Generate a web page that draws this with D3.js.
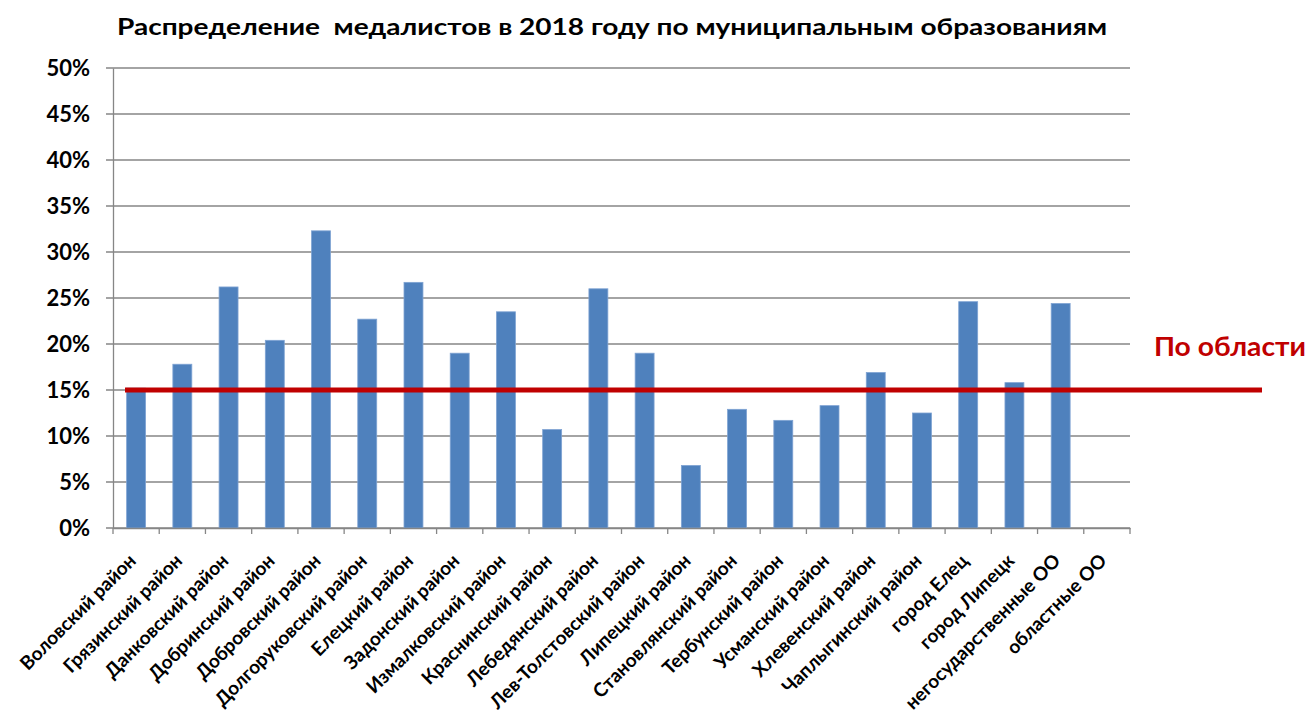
<!DOCTYPE html>
<html><head><meta charset="utf-8">
<script src="https://cdn.jsdelivr.net/npm/d3@7"></script>
<style>body{margin:0;background:#fff;} svg{display:block;} text{font-family:Lato,"Open Sans",sans-serif;font-weight:bold;}</style>
</head><body>
<svg id="c" width="1311" height="724"></svg>
<script>
const title = "Распределение  медалистов в 2018 году по муниципальным образованиям";
const categories = ["Воловский район","Грязинский район","Данковский район","Добринский район","Добровский район","Долгоруковский район","Елецкий район","Задонский район","Измалковский район","Краснинский район","Лебедянский район","Лев-Толстовский район","Липецкий район","Становлянский район","Тербунский район","Усманский район","Хлевенский район","Чаплыгинский район","город Елец","город Липецк","негосударственные ОО","областные ОО"];
const values = [15.2,17.8,26.2,20.4,32.3,22.7,26.7,19.0,23.5,10.7,26.0,19.0,6.8,12.9,11.7,13.3,16.9,12.5,24.6,15.8,24.4,0];
const yTicks = [0,5,10,15,20,25,30,35,40,45,50];
const regionValue = 15;
const regionLabel = "По области";

const svg = d3.select("#c");
const L = 113, R = 1130, T = 68, B = 528;
const x = d3.scaleBand().domain(categories).range([L, R]).paddingInner(0.59).paddingOuter(0.295);
const xs = d3.scaleBand().domain(categories).range([L, R]);
const y = d3.scaleLinear().domain([0, 50]).range([B, T]);

// title
svg.append("text").attr("x", 612).attr("y", 35).attr("text-anchor","middle")
  .style("white-space", "pre")
  .attr("font-size", 22).attr("textLength", 990).attr("lengthAdjust","spacingAndGlyphs")
  .text(title);

// gridlines
svg.append("g").selectAll("line").data(yTicks).join("line")
  .attr("x1", L - 7).attr("x2", R).attr("y1", d => y(d)).attr("y2", d => y(d))
  .attr("stroke", "#868686").attr("stroke-width", 1.3);

// y axis
const ya = svg.append("g").attr("transform", `translate(${L},0)`)
  .call(d3.axisLeft(y).tickValues(yTicks).tickFormat(d => d + "%").tickSize(0).tickPadding(23));
ya.select(".domain").attr("stroke", "#868686").attr("stroke-width", 1.3);
ya.selectAll("text").attr("font-size", 22).attr("fill", "#000").attr("font-family", "Lato,sans-serif").attr("font-weight","bold");

// bars
svg.append("g").selectAll("rect").data(values).join("rect")
  .attr("x", (d, i) => x(categories[i])).attr("width", x.bandwidth())
  .attr("y", d => y(d)).attr("height", d => B - y(d))
  .attr("fill", "#4f81bd").attr("stroke", "#7fa3d3").attr("stroke-width", 0.8);

// x axis
const xa = svg.append("g").attr("transform", `translate(0,${B})`)
  .call(d3.axisBottom(xs).tickSize(0).tickFormat(""));
xa.select(".domain").attr("stroke", "#868686").attr("stroke-width", 1.3);
const edges = d3.range(categories.length + 1).map(i => L + i * xs.step());
svg.append("g").selectAll("line").data(edges).join("line")
  .attr("x1", d => d).attr("x2", d => d).attr("y1", B).attr("y2", B + 6)
  .attr("stroke", "#868686").attr("stroke-width", 1.3);

svg.append("g").selectAll("text").data(categories).join("text")
  .attr("transform", d => `translate(${xs(d) + xs.bandwidth()/2 + 1},${B + 34}) rotate(-45)`)
  .attr("text-anchor", "end").attr("font-size", 19).text(d => d);

// region line
svg.append("line").attr("x1", 125).attr("x2", 1262)
  .attr("y1", y(regionValue)).attr("y2", y(regionValue))
  .attr("stroke", "#c00000").attr("stroke-width", 5);
svg.append("text").attr("x", 1154).attr("y", 356).attr("font-size", 27)
  .attr("textLength", 152).attr("lengthAdjust","spacingAndGlyphs")
  .attr("fill", "#c00000").text(regionLabel);
</script>
</body></html>
